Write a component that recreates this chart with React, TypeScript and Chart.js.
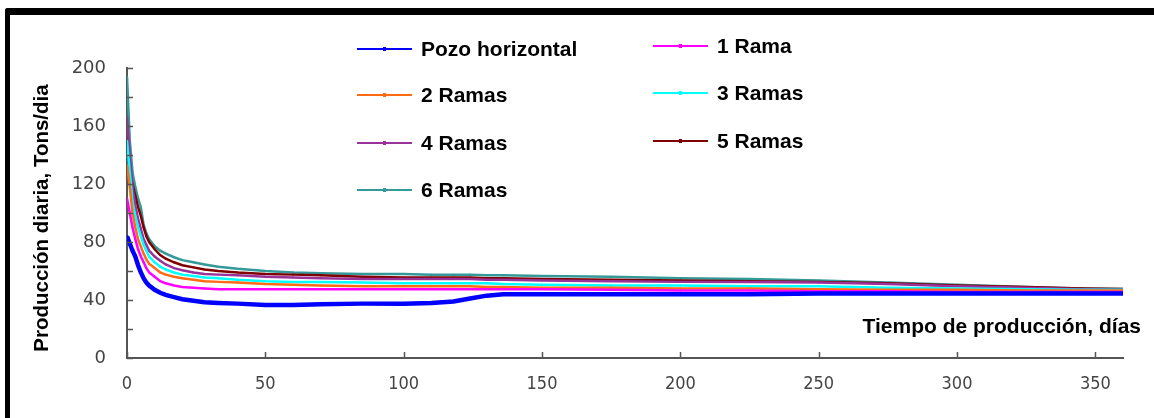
import React, { useEffect, useRef } from 'react';
import { Chart, registerables } from 'chart.js';

Chart.register(...registerables);

// ---- Data ----
const days = [0, 1, 2, 3, 4, 5, 6, 7, 8, 10, 12, 14, 17, 20, 24, 28, 33, 40, 50, 60, 70, 85, 100, 110, 118, 124, 130, 136, 150, 175, 200, 225, 250, 275, 300, 325, 345, 360];

const pozoHorizontal = [84, 79, 74, 70, 64, 59, 55, 52, 50, 47, 45, 43.5, 42, 40.5, 39.5, 38.5, 38, 37.5, 36.5, 36.5, 37, 37.5, 37.5, 38, 39, 41, 43, 44, 44, 44, 44, 44, 44.5, 44.5, 44.5, 44.5, 44.5, 44.5];
const rama1 = [110, 100, 90, 82, 75, 70, 66, 62, 59, 56, 53, 51.5, 50, 49, 48.5, 48, 47.5, 47.5, 47.5, 47.5, 47.5, 47.5, 47.5, 47.5, 47.5, 47.5, 47.5, 47.5, 47.5, 47, 46.5, 46.5, 46, 46, 45.5, 45.5, 45.5, 45.5];
const ramas2 = [133, 118, 100, 90, 82, 77, 72, 68, 65, 62, 59, 57.5, 56, 55, 54, 53, 52.5, 52, 51, 50.5, 50, 49.5, 49.5, 49.5, 49.5, 49.5, 49, 49, 48.5, 48.5, 48, 48, 47.5, 47, 47, 46.5, 46.5, 46.5];
const ramas3 = [150, 128, 108, 98, 90, 84, 78, 74, 70, 66, 63, 61, 59, 57.5, 56.5, 55.5, 55, 54, 53, 52.5, 52.5, 52, 51.5, 51.5, 51.5, 51.5, 51.5, 51, 50.5, 50, 50, 49.5, 49.5, 48.5, 48, 47.5, 47, 47];
const ramas4 = [166, 140, 118, 105, 96, 89, 82, 78, 74, 70, 67, 64.5, 62, 60.5, 59, 58, 57.5, 57, 56, 55.5, 55, 54.5, 54.5, 54.5, 54.5, 54.5, 54, 54, 53.5, 53, 52.5, 52.5, 52, 51, 49.5, 48.5, 47.5, 47];
const ramas5 = [160, 128, 120, 112, 104, 98, 90, 84, 80, 75, 71, 68.5, 66, 64, 62.5, 61, 60, 59, 58, 57.5, 57, 56, 55.5, 55.5, 55.5, 55.5, 55, 55, 54.5, 54, 53.5, 53, 52.5, 51.5, 50, 49, 48, 47.5];
const ramas6 = [194, 150, 128, 118, 110, 104, 92, 86, 82, 77, 74, 72, 69.5, 67.5, 66, 64.5, 63, 61.5, 60, 59, 58.5, 58, 58, 57.5, 57.5, 57.5, 57, 57, 56.5, 56, 55, 54.5, 53.5, 52, 50.5, 49, 48, 47.5];

const seriesNames = ['Pozo horizontal', '1 Rama', '2 Ramas', '3 Ramas', '4 Ramas', '5 Ramas', '6 Ramas'];
const seriesValues = [pozoHorizontal, rama1, ramas2, ramas3, ramas4, ramas5, ramas6];
const seriesColors = ['#0000FF', '#FF00FF', '#FF6A13', '#00FFFF', '#993399', '#800000', '#339999'];

const yTitle = 'Producción diaria, Tons/dia';
const xTitle = 'Tiempo de producción, días';

// legend placement (layout only)
const legendSlots = [
  { x: 357, y: 49 },
  { x: 653, y: 46 },
  { x: 357, y: 95 },
  { x: 653, y: 93 },
  { x: 357, y: 143 },
  { x: 653, y: 141 },
  { x: 357, y: 190 },
];

const decorPlugin = {
  id: 'decor',
  afterDraw(chart: any) {
    const ctx = chart.ctx;
    const xs = chart.scales.x;
    const ys = chart.scales.y;
    const area = chart.chartArea;
    ctx.save();
    // inner tick marks
    ctx.strokeStyle = '#555';
    ctx.lineWidth = 1.5;
    ys.ticks.forEach((t: any) => {
      const py = Math.round(ys.getPixelForValue(t.value)) + 0.5;
      ctx.beginPath();
      ctx.moveTo(area.left, py);
      ctx.lineTo(area.left + 6, py);
      ctx.stroke();
    });
    xs.ticks.forEach((t: any) => {
      const px = Math.round(xs.getPixelForValue(t.value)) + 0.5;
      ctx.beginPath();
      ctx.moveTo(px, area.bottom);
      ctx.lineTo(px, area.bottom - 6);
      ctx.stroke();
    });

    // titles
    ctx.fillStyle = '#000';
    ctx.font = 'bold 21px "Liberation Sans", Arial, sans-serif';
    ctx.textBaseline = 'middle';
    ctx.textAlign = 'right';
    ctx.fillText(xTitle, 1141, 327);
    ctx.save();
    ctx.translate(42, 218);
    ctx.rotate(-Math.PI / 2);
    ctx.textAlign = 'center';
    ctx.font = 'bold 20.5px "Liberation Sans", Arial, sans-serif';
    ctx.fillText(yTitle, 0, 0);
    ctx.restore();

    // legend
    seriesNames.forEach((name, i) => {
      const s = legendSlots[i];
      ctx.strokeStyle = seriesColors[i];
      ctx.lineWidth = 2;
      ctx.beginPath();
      ctx.moveTo(s.x, s.y);
      ctx.lineTo(s.x + 55, s.y);
      ctx.stroke();
      ctx.fillStyle = seriesColors[i];
      ctx.fillRect(s.x + 26, s.y - 2, 3, 4);
      ctx.fillStyle = '#000';
      ctx.textAlign = 'left';
      ctx.textBaseline = 'middle';
      ctx.font = 'bold 21px "Liberation Sans", Arial, sans-serif';
      ctx.fillText(name, s.x + 64, s.y + 1);
    });
    ctx.restore();
  },
};

export default function App() {
  const canvasRef = useRef<HTMLCanvasElement | null>(null);

  useEffect(() => {
    if (!canvasRef.current) return;
    const datasets = seriesNames.map((name, i) => ({
      label: name,
      data: days.map((d, k) => ({ x: d, y: seriesValues[i][k] })),
      borderColor: seriesColors[i],
      backgroundColor: seriesColors[i],
      borderWidth: i === 0 ? 4.5 : 2.5,
      pointRadius: 1.2,
      pointStyle: 'rect',
      pointBorderWidth: 0,
      tension: 0,
      fill: false,
    }));

    const chart = new Chart(canvasRef.current, {
      type: 'line',
      data: { datasets },
      plugins: [decorPlugin],
      options: {
        animation: false,
        responsive: false,
        maintainAspectRatio: false,
        layout: { padding: { left: 0, top: 68, right: 31, bottom: 0 } },
        plugins: { legend: { display: false }, tooltip: { enabled: false } },
        scales: {
          x: {
            type: 'linear',
            min: 0,
            max: 360,
            afterFit: (scale: any) => { scale.height = 60; },
            border: { display: true, color: '#555', width: 2 },
            grid: { display: false, drawTicks: false },
            ticks: {
              stepSize: 50,
              includeBounds: false,
              padding: 16,
              color: '#444',
              font: { family: '"Liberation Sans Narrow", "DejaVu Sans Condensed", sans-serif', size: 18 },
              maxRotation: 0,
            },
          },
          y: {
            min: 0,
            max: 200,
            afterFit: (scale: any) => { scale.width = 127; },
            border: { display: true, color: '#555', width: 2 },
            grid: { display: false, drawTicks: false },
            ticks: {
              stepSize: 20,
              padding: 21,
              color: '#444',
              font: { family: '"DejaVu Sans", sans-serif', size: 18 },
              callback: (v: any) => (Number(v) % 40 === 0 ? String(v) : ''),
            },
          },
        },
      },
    });
    return () => chart.destroy();
  }, []);

  return (
    <div style={{ position: 'absolute', left: 0, top: 0, width: 1154, height: 418, background: '#fff', overflow: 'hidden' }}>
      <canvas ref={canvasRef} width={1154} height={418} style={{ position: 'absolute', left: 0, top: 0, width: 1154, height: 418 }} />
      <div style={{ position: 'absolute', left: 5, top: 8, width: 1160, height: 430, borderTop: '7px solid #000', borderLeft: '5px solid #000', borderTopLeftRadius: 3, pointerEvents: 'none' }} />
    </div>
  );
}
